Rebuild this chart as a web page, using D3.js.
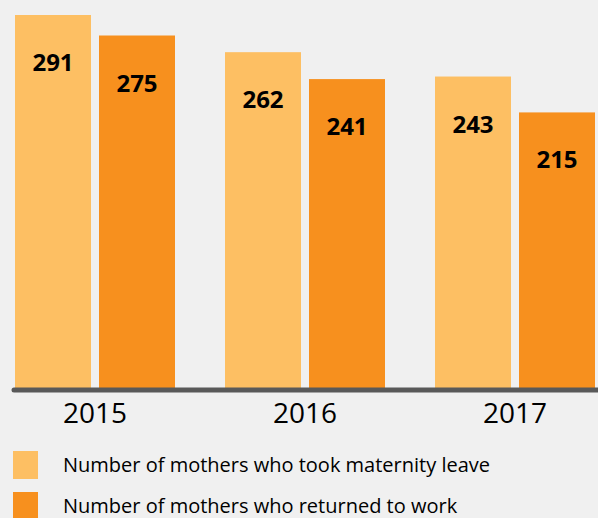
<!DOCTYPE html>
<html>
<head>
<meta charset="utf-8">
<script src="https://cdn.jsdelivr.net/npm/d3@7"></script>
<style>
  html, body { margin: 0; padding: 0; background: #f0f0f0; }
  svg { display: block; }
</style>
</head>
<body>
<svg id="chart" width="598" height="518"></svg>
<script>
const years = ["2015", "2016", "2017"];
const seriesNames = ["Number of mothers who took maternity leave", "Number of mothers who returned to work"];
const tookLeave = [291, 262, 243];
const returned = [275, 241, 215];
const colors = ["#fdbf63", "#f7901e"];

const svg = d3.select("#chart");
svg.append("rect").attr("width", 598).attr("height", 518).attr("fill", "#f0f0f0");

const baseY = 388;
const x0 = d3.scaleBand().domain(years).range([15, 595]).paddingInner(50 / 210).paddingOuter(0);
const x1 = d3.scaleBand().domain([0, 1]).range([0, x0.bandwidth()]).paddingInner(8 / 84).paddingOuter(0);
const y = d3.scaleLinear().domain([0, 291]).range([baseY, 15]);

const data = years.map((yr, i) => ({ year: yr, values: [tookLeave[i], returned[i]] }));

const groups = svg.selectAll("g.grp").data(data).join("g")
  .attr("class", "grp")
  .attr("transform", d => `translate(${x0(d.year)},0)`);

groups.selectAll("rect").data(d => d.values.map((v, k) => ({ v, k }))).join("rect")
  .attr("x", d => x1(d.k))
  .attr("y", d => y(d.v))
  .attr("width", x1.bandwidth())
  .attr("height", d => baseY - y(d.v))
  .attr("fill", d => colors[d.k]);

groups.selectAll("text.val").data(d => d.values.map((v, k) => ({ v, k }))).join("text")
  .attr("class", "val")
  .attr("x", d => x1(d.k) + x1.bandwidth() / 2)
  .attr("y", d => y(d.v) + 56)
  .attr("text-anchor", "middle")
  .attr("font-family", "'Open Sans', sans-serif")
  .attr("font-weight", "bold")
  .attr("font-size", 24)
  .attr("fill", "#000")
  .text(d => d.v);

// baseline axis
const axis = d3.axisBottom(x0).tickSize(0).tickPadding(0);
const axG = svg.append("g").attr("transform", `translate(0,${baseY})`).call(axis);
axG.select(".domain").remove();
axG.append("line")
  .attr("x1", 14).attr("x2", 600)
  .attr("y1", 2).attr("y2", 2)
  .attr("stroke", "#595959").attr("stroke-width", 5).attr("stroke-linecap", "round");
axG.selectAll(".tick text")
  .attr("y", 35)
  .attr("dy", 0)
  .attr("font-family", "'Open Sans', sans-serif")
  .attr("font-size", 28)
  .attr("fill", "#000");

// legend
const leg = svg.append("g");
seriesNames.forEach((name, i) => {
  const gy = 451 + i * 41;
  leg.append("rect").attr("x", 13).attr("y", gy).attr("width", 25).attr("height", 28).attr("fill", colors[i]);
  leg.append("text").attr("x", 63).attr("y", gy + 21)
    .attr("font-family", "'Open Sans', sans-serif")
    .attr("font-size", 20)
    .attr("fill", "#000")
    .text(name);
});
</script>
</body>
</html>
